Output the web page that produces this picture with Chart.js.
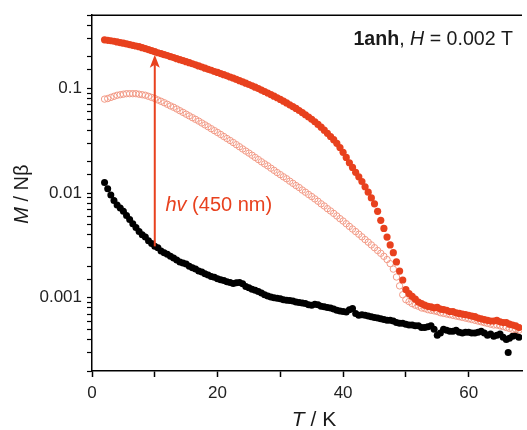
<!DOCTYPE html>
<html>
<head>
<meta charset="utf-8">
<script src="https://cdn.jsdelivr.net/npm/chart.js@4.4.1/dist/chart.umd.min.js"></script>
<style>
  html, body { margin: 0; padding: 0; background: #fff; }
  #chart { display: block; }
</style>
</head>
<body>
<canvas id="chart" width="527" height="430"></canvas>
<script>
// ===== M vs T, 1anh at H = 0.002 T =====

// measurement temperatures (K), shared by the three runs
const temps = [
  2, 2.5, 3, 3.5, 4, 4.5, 5, 5.5, 6, 6.5, 7, 7.5, 8, 8.5, 9, 9.5,
  10, 10.5, 11, 11.5, 12, 12.5, 13, 13.5, 14, 14.5, 15, 15.5, 16, 16.5, 17, 17.5,
  18, 18.5, 19, 19.5, 20, 20.5, 21, 21.5, 22, 22.5, 23, 23.5, 24, 24.5, 25, 25.5,
  26, 26.5, 27, 27.5, 28, 28.5, 29, 29.5, 30, 30.5, 31, 31.5, 32, 32.5, 33, 33.5,
  34, 34.5, 35, 35.5, 36, 36.5, 37, 37.5, 38, 38.5, 39, 39.5, 40, 40.5, 41, 41.5,
  42, 42.5, 43, 43.5, 44, 44.5, 45, 45.5, 46, 46.5, 47, 47.5, 48, 48.5, 49, 49.5,
  50, 50.5, 51, 51.5, 52, 52.5, 53, 53.5, 54, 54.5, 55, 55.5, 56, 56.5, 57, 57.5,
  58, 58.5, 59, 59.5, 60, 60.5, 61, 61.5, 62, 62.5, 63, 63.5, 64, 64.5, 65, 65.5,
  66, 66.5, 67, 67.5, 68];

// after irradiation (filled red)
const mLit = [
  0.291, 0.288, 0.285, 0.282, 0.278, 0.274, 0.270, 0.266, 0.262, 0.258, 0.254, 0.250, 0.245, 0.240, 0.235, 0.229,
  0.224, 0.219, 0.215, 0.210, 0.206, 0.201, 0.197, 0.192, 0.188, 0.184, 0.180, 0.176, 0.172, 0.168, 0.164, 0.160,
  0.156, 0.152, 0.149, 0.145, 0.142, 0.1386, 0.1352, 0.1318, 0.1285, 0.1252, 0.1219, 0.1186, 0.1153, 0.1121, 0.1089, 0.1057,
  0.1026, 0.0995, 0.0964, 0.0934, 0.0904, 0.0873, 0.0843, 0.0814, 0.0785, 0.0755, 0.0726, 0.0697, 0.0670, 0.0643, 0.0615, 0.0587,
  0.0560, 0.0533, 0.0507, 0.0480, 0.0453, 0.0426, 0.0399, 0.0372, 0.0347, 0.0324, 0.0299, 0.0272, 0.0245, 0.0219, 0.0195, 0.0176,
  0.0158, 0.0143, 0.0129, 0.0115, 0.0102, 0.0090, 0.0079, 0.0067, 0.0055, 0.0046, 0.0038, 0.0032, 0.0027, 0.0022, 0.0018, 0.00148,
  0.0012, 0.00110, 0.00103, 0.00097, 0.00091, 0.00088, 0.00085, 0.00083, 0.00082, 0.00080, 0.00081, 0.00078, 0.00077, 0.00076, 0.00074, 0.00074,
  0.00072, 0.00071, 0.00070, 0.00069, 0.00068, 0.00067, 0.00066, 0.00064, 0.00063, 0.00062, 0.00061, 0.00060, 0.00060, 0.00061, 0.00059, 0.00058,
  0.00058, 0.00056, 0.00055, 0.00054, 0.00052];

// relaxed run (open pink circles)
const mOpen = [
  0.079, 0.080, 0.082, 0.084, 0.086, 0.087, 0.088, 0.089, 0.089, 0.089, 0.089, 0.088, 0.087, 0.086, 0.084, 0.082,
  0.080, 0.0775, 0.0753, 0.073, 0.0705, 0.068, 0.066, 0.0636, 0.0612, 0.059, 0.0567, 0.0546, 0.0525, 0.0506, 0.0487, 0.0467,
  0.0448, 0.043, 0.0412, 0.0395, 0.0379, 0.0363, 0.0347, 0.0332, 0.0318, 0.0304, 0.0290, 0.0277, 0.0264, 0.0252, 0.0241, 0.0230,
  0.0219, 0.0209, 0.0199, 0.0190, 0.0182, 0.0173, 0.0165, 0.0157, 0.0150, 0.0143, 0.0137, 0.0130, 0.0124, 0.0118, 0.0113, 0.0107,
  0.0102, 0.0097, 0.00926, 0.0088, 0.00836, 0.0079, 0.00753, 0.0071, 0.00675, 0.0064, 0.00605, 0.0057, 0.00541, 0.0051, 0.00481, 0.00454,
  0.00429, 0.00405, 0.00382, 0.0036, 0.0034, 0.0032, 0.00301, 0.00283, 0.00266, 0.00249, 0.00232, 0.00212, 0.00188, 0.00158, 0.0013, 0.00107,
  0.00096, 0.00092, 0.00088, 0.00085, 0.00083, 0.0008, 0.00079, 0.00077, 0.00076, 0.00075, 0.00074, 0.00072, 0.00071, 0.0007, 0.00069, 0.00068,
  0.00067, 0.00066, 0.00065, 0.00064, 0.00063, 0.00062, 0.00061, 0.0006, 0.00059, 0.00058, 0.00057, 0.00056, 0.00055, 0.00055, 0.00054, 0.00053,
  0.00052, 0.00051, 0.0005, 0.0005, 0.00049];

// before irradiation (black)
const mDark = [
  0.0126, 0.0110, 0.0096, 0.0085, 0.0077, 0.0072, 0.0067, 0.0061, 0.0056, 0.0051, 0.0047, 0.0043, 0.0040, 0.0038, 0.0035, 0.0033,
  0.0031, 0.0030, 0.0028, 0.0027, 0.0026, 0.0025, 0.0024, 0.0023, 0.0022, 0.00215, 0.0021, 0.0020, 0.00194, 0.00188, 0.0018, 0.00176,
  0.0017, 0.00165, 0.0016, 0.00157, 0.00152, 0.00149, 0.00146, 0.00142, 0.0014, 0.00137, 0.00139, 0.0014, 0.00136, 0.00128, 0.00125, 0.00121,
  0.00118, 0.00115, 0.00111, 0.00107, 0.00104, 0.00102, 0.001, 0.00099, 0.00098, 0.00096, 0.00095, 0.00094, 0.00093, 0.00091, 0.0009, 0.00089,
  0.00088, 0.00086, 0.00085, 0.00087, 0.00086, 0.00083, 0.00082, 0.00081, 0.0008, 0.00078, 0.00076, 0.00075, 0.00074, 0.00073, 0.00077, 0.00079,
  0.00071, 0.00068, 0.00069, 0.00068, 0.00067, 0.00066, 0.00065, 0.00064, 0.00063, 0.00062, 0.00061, 0.00061, 0.0006, 0.00058, 0.00057, 0.00057,
  0.00056, 0.00055, 0.00055, 0.00054, 0.00054, 0.00052, 0.00052, 0.00053, 0.00054, 0.0005, 0.00044, 0.00046, 0.0005, 0.00049, 0.00048, 0.00048,
  0.00049, 0.00047, 0.00046, 0.00047, 0.00047, 0.00046, 0.00046, 0.00047, 0.00048, 0.00046, 0.00044, 0.00045, 0.00043, 0.00044, 0.00045, 0.00042,
  0.0004, 0.00041, 0.00043, 0.00044, 0.00042];
const darkOutlierT = [66.3];
const darkOutlierM = [0.0003];

// axes
const xRange = [0, 68.5];
const yRange = [0.0002, 0.5];
const xLabelEvery = 20;

// arrow + labels
const arrowT = 10;
const arrowFrom = 0.0031;
const arrowTo = 0.21;
const noteT = 11.7;
const noteM = 0.0076;

const RED = '#e8411e';
const PINK = '#f29a86';
const INK = '#1a1a1a';
const FONT = '"Liberation Sans", Arial, sans-serif';

const toPoints = (xs, ys) => xs.map((x, i) => ({ x: x, y: ys[i] }));

// ---- custom drawing: frame top, arrow, texts ----
const decorations = {
  id: 'decorations',
  afterDatasetsDraw(chart) {
    const { ctx, chartArea, scales } = chart;
    const x = scales.x, y = scales.y;
    ctx.save();

    // top frame line
    ctx.strokeStyle = '#000';
    ctx.lineWidth = 1.5;
    ctx.beginPath();
    ctx.moveTo(chartArea.left, chartArea.top);
    ctx.lineTo(chartArea.right, chartArea.top);
    ctx.stroke();

    // hv arrow
    const ax = x.getPixelForValue(arrowT);
    const y0 = y.getPixelForValue(arrowFrom);
    const y1 = y.getPixelForValue(arrowTo);
    ctx.strokeStyle = RED;
    ctx.fillStyle = RED;
    ctx.lineWidth = 2;
    ctx.beginPath();
    ctx.moveTo(ax, y0);
    ctx.lineTo(ax, y1 + 10);
    ctx.stroke();
    ctx.beginPath();
    ctx.moveTo(ax, y1);
    ctx.lineTo(ax - 5, y1 + 13);
    ctx.lineTo(ax, y1 + 10);
    ctx.lineTo(ax + 5, y1 + 13);
    ctx.closePath();
    ctx.fill();

    ctx.textBaseline = 'middle';
    ctx.textAlign = 'left';

    const parts = (list, sx, sy) => {
      let cx = sx;
      list.forEach(([txt, font, col]) => {
        ctx.font = font;
        ctx.fillStyle = col;
        ctx.fillText(txt, cx, sy);
        cx += ctx.measureText(txt).width;
      });
    };
    const width = (list) => list.reduce((w, [txt, font]) => { ctx.font = font; return w + ctx.measureText(txt).width; }, 0);

    // hv (450 nm)
    parts([
      ['hv', 'italic 20px ' + FONT, RED],
      [' (450 nm)', '20px ' + FONT, RED],
    ], x.getPixelForValue(noteT), y.getPixelForValue(noteM));

    // sample / field label
    const head = [
      ['1anh', 'bold 19.6px ' + FONT, INK],
      [', ', '19.6px ' + FONT, INK],
      ['H', 'italic 19.6px ' + FONT, INK],
      [' = 0.002 T', '19.6px ' + FONT, INK],
    ];
    parts(head, chartArea.right - 9 - width(head), chartArea.top + 24);

    // x title
    const xt = [
      ['T', 'italic 21px ' + FONT, INK],
      [' / K', '21px ' + FONT, INK],
    ];
    parts(xt, 314 - width(xt) / 2, 420);

    // y title (rotated)
    const yt = [
      ['M', 'italic 20px ' + FONT, INK],
      [' / N\u03b2', '20px ' + FONT, INK],
    ];
    ctx.translate(22, (chartArea.top + chartArea.bottom) / 2 + 1);
    ctx.rotate(-Math.PI / 2);
    parts(yt, -width(yt) / 2, 0);

    ctx.restore();
  },
};

new Chart(document.getElementById('chart'), {
  type: 'scatter',
  data: {
    datasets: [
      {
        label: 'irradiated',
        data: toPoints(temps, mLit),
        backgroundColor: RED,
        borderWidth: 0,
        pointRadius: 3.6,
      },
      {
        label: 'relaxed',
        data: toPoints(temps, mOpen),
        backgroundColor: 'rgba(255,255,255,0)',
        borderColor: PINK,
        borderWidth: 1,
        pointRadius: 3.2,
      },
      {
        label: 'dark',
        data: toPoints(temps, mDark).concat(toPoints(darkOutlierT, darkOutlierM)),
        backgroundColor: '#000',
        borderWidth: 0,
        pointRadius: 3.5,
      },
    ],
  },
  options: {
    responsive: false,
    animation: false,
    devicePixelRatio: 1,
    layout: { padding: { top: 13, left: 0, right: 0, bottom: 0 } },
    plugins: {
      legend: { display: false },
      tooltip: { enabled: false },
    },
    scales: {
      x: {
        type: 'linear',
        min: xRange[0],
        max: xRange[1],
        afterFit: (s) => { s.height = 59; },
        border: { display: true, color: '#000', width: 1.5 },
        grid: { drawOnChartArea: false, drawTicks: true, tickLength: 6, tickColor: '#000', tickWidth: 1.5 },
        ticks: {
          stepSize: 10,
          includeBounds: false,
          autoSkip: false,
          maxRotation: 0,
          padding: 6,
          color: '#222',
          font: { family: FONT, size: 17 },
          callback: (v) => (Math.abs(v % xLabelEvery) < 1e-6 ? String(v) : ''),
        },
      },
      y: {
        type: 'logarithmic',
        min: yRange[0],
        max: yRange[1],
        afterFit: (s) => { s.width = 92; },
        border: { display: true, color: '#000', width: 1.5 },
        grid: { drawOnChartArea: false, drawTicks: true, tickLength: 5, tickColor: '#000', tickWidth: 1.2 },
        ticks: {
          autoSkip: false,
          padding: 5,
          color: '#222',
          font: { family: FONT, size: 17 },
          callback: (v) => {
            const e = Math.log10(v);
            return Math.abs(e - Math.round(e)) < 1e-6 ? String(v) : '';
          },
        },
      },
    },
  },
  plugins: [decorations],
});
</script>
</body>
</html>
